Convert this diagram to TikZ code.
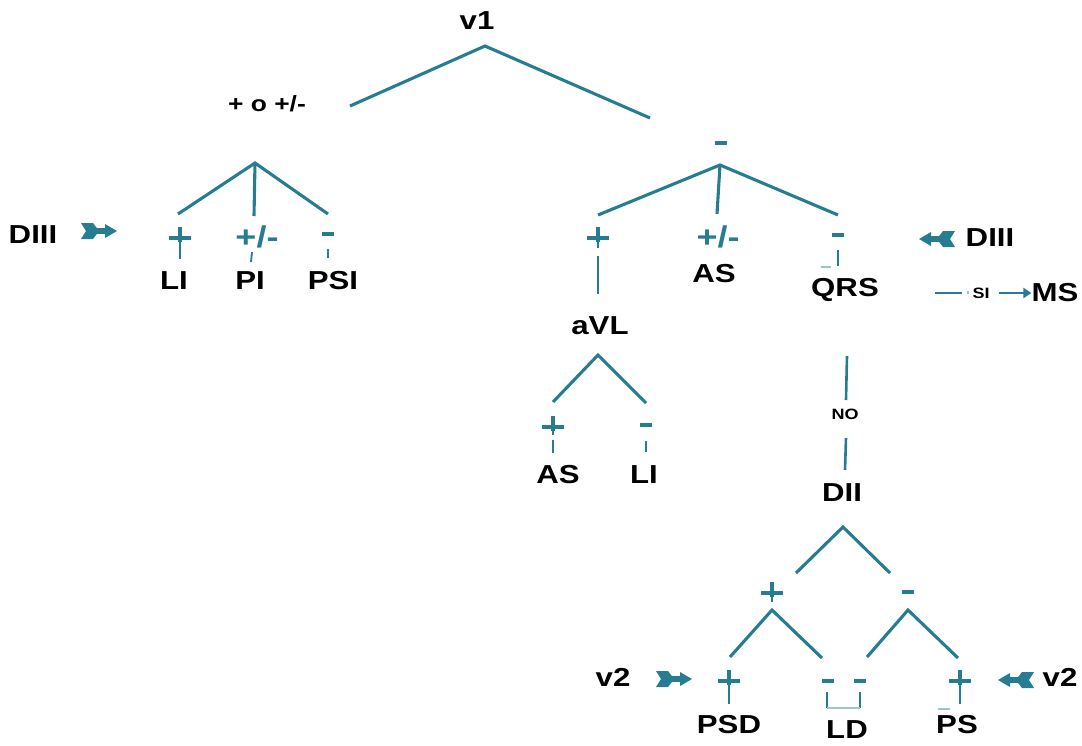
\documentclass[tikz,border=0pt]{standalone}
\usepackage{fontspec}
\usetikzlibrary{arrows.meta}
\setmainfont{Liberation Sans}
\newfontfamily\widesans[FakeStretch=1.2]{Liberation Sans}
\definecolor{treeteal}{RGB}{38,125,145}
\tikzset{
  branch/.style={draw=treeteal,line width=3.1pt},
  stemline/.style={draw=treeteal,line width=2.6pt},
  plusbar/.style={draw=treeteal,line width=3.6pt},
  tickline/.style={draw=treeteal,line width=1.8pt},
  faintline/.style={draw=treeteal!45,line width=1.3pt},
  minussign/.style={draw=treeteal,line width=4.4pt},
  lbl/.style={font=\widesans\bfseries\fontsize{26}{30}\selectfont,inner sep=0pt},
  smalllbl/.style={font=\widesans\bfseries\fontsize{15}{18}\selectfont,inner sep=0pt},
  signlbl/.style={text=treeteal,font=\widesans\bfseries\fontsize{30}{34}\selectfont,inner sep=0pt},
  pics/plusstem/.style={code={
    \draw[plusbar] (-11,0) -- (11,0);
    \draw[plusbar] (0,-11) -- (0,4);
    \draw[stemline] (0,3) -- (0,#1);
  }},
  pics/fletcharrow/.style={code={
    \fill[treeteal] (0,-8) -- (12,-8) -- (16,-2.8) -- (24,-2.8) -- (24,-7)
      -- (36,0) -- (24,7) -- (24,2.8) -- (16,2.8) -- (12,8) -- (0,8)
      -- (5,0) -- cycle;
  }}
}
\begin{document}
\begin{tikzpicture}[x=1pt,y=-1pt]
\useasboundingbox (0,0) rectangle (1082,745);

% ---------- root ----------
\node[lbl] (v1) at (477,21) {v1};
\coordinate (rootapex) at (485,46);
\coordinate (rootleft) at (350,106);
\coordinate (rootright) at (650,118);
\draw[branch] (rootleft) -- (rootapex) -- (rootright);
\node[font=\widesans\bfseries\fontsize{22}{26}\selectfont,inner sep=0pt] (posneg) at (267,104) {+ o +/-};

% ---------- left subtree ----------
\coordinate (lapex) at (255,163);
\coordinate (lend1) at (178,214);
\coordinate (lend2) at (254,216);
\coordinate (lend3) at (328,214);
\draw[branch] (lend1) -- (lapex) -- (lend3);
\draw[branch] (lapex) -- (lend2);
\pic at (180,238) {plusstem=21};
\node[signlbl] (lpm) at (257,237) {+/-};
\coordinate (lpmt1) at (252,252);
\coordinate (lpmt2) at (251,262);
\draw[tickline] (lpmt1) -- (lpmt2);
\coordinate (lmin1) at (322,234);
\coordinate (lmin2) at (334,234);
\draw[minussign] (lmin1) -- (lmin2);
\coordinate (lmt1) at (328,249);
\coordinate (lmt2) at (328,258);
\draw[tickline] (lmt1) -- (lmt2);
\node[lbl] (li1) at (174,281) {LI};
\node[lbl] (pi1) at (250,281) {PI};
\node[lbl] (psi1) at (333,281) {PSI};
\node[lbl] (d3left) at (33,235) {DIII};
\pic at (81,231) {fletcharrow};

% ---------- right subtree ----------
\coordinate (rmin1) at (715,143);
\coordinate (rmin2) at (727,143);
\draw[minussign] (rmin1) -- (rmin2);
\coordinate (rapex) at (720,165);
\coordinate (rend1) at (598,215);
\coordinate (rend2) at (717,214);
\coordinate (rend3) at (838,215);
\draw[branch] (rend1) -- (rapex) -- (rend3);
\draw[branch] (rapex) -- (rend2);
\pic at (598,238) {plusstem=10};
\node[signlbl] (rpm) at (718,237) {+/-};
\coordinate (rmm1) at (832,235);
\coordinate (rmm2) at (844,235);
\draw[minussign] (rmm1) -- (rmm2);
\coordinate (rmt1) at (838,250);
\coordinate (rmt2) at (838,266);
\draw[tickline] (rmt1) -- (rmt2);
\coordinate (rmf1) at (821,267);
\coordinate (rmf2) at (831,267);
\draw[faintline] (rmf1) -- (rmf2);
\node[lbl] (as1) at (714,274) {AS};
\node[lbl] (qrs) at (845,290) {QRS};
\node[lbl] (d3right) at (990,238) {DIII};
\pic[xscale=-1] at (955,239) {fletcharrow};

% QRS -- SI --> MS
\node[smalllbl] (si) at (981,293) {SI};
\node[lbl] (ms) at (1055,293) {MS};
\coordinate (siline1) at (935,293);
\coordinate (siline2) at (962,293);
\draw[stemline,line width=2pt] (siline1) -- (siline2);
\coordinate (sitick) at (968,291);
\draw[faintline] (sitick) -- ++(0,3);
\draw[treeteal,line width=2.4pt,-{Triangle[length=8pt,width=10pt]}] (si.east) ++(9,0) -- (ms.west);

% aVL branch
\node[lbl] (avl) at (600,326) {aVL};
\coordinate (avlstem1) at (598,256);
\coordinate (avlstem2) at (598,294);
\draw[stemline] (avlstem1) -- (avlstem2);
\coordinate (aapex) at (598,355);
\coordinate (aend1) at (553,402);
\coordinate (aend2) at (646,403);
\draw[branch] (aend1) -- (aapex) -- (aend2);
\pic at (553,427) {plusstem=8};
\coordinate (ast1) at (553,440);
\coordinate (ast2) at (553,453);
\draw[tickline] (ast1) -- (ast2);
\coordinate (amin1) at (640,425);
\coordinate (amin2) at (652,425);
\draw[minussign] (amin1) -- (amin2);
\coordinate (amt1) at (646,441);
\coordinate (amt2) at (646,452);
\draw[tickline] (amt1) -- (amt2);
\node[lbl] (as2) at (558,475) {AS};
\node[lbl] (li2) at (644,475) {LI};

% QRS -- NO -- DII
\node[smalllbl] (no) at (845,414) {NO};
\node[lbl] (d2) at (842,493) {DII};
\coordinate (noa1) at (847,356);
\coordinate (noa2) at (846,400);
\coordinate (nob1) at (846,438);
\coordinate (nob2) at (845,470);
\draw[stemline] (noa1) -- (noa2);
\draw[stemline] (nob1) -- (nob2);

% DII subtree
\coordinate (dapex) at (843,527);
\coordinate (dend1) at (796,573);
\coordinate (dend2) at (890,573);
\draw[branch] (dend1) -- (dapex) -- (dend2);
\pic at (772,593) {plusstem=9};
\coordinate (dmin1) at (902,592);
\coordinate (dmin2) at (914,592);
\draw[minussign] (dmin1) -- (dmin2);

\coordinate (papex) at (772,610);
\coordinate (pend1) at (730,657);
\coordinate (pend2) at (822,658);
\draw[branch] (pend1) -- (papex) -- (pend2);
\coordinate (mapex) at (908,610);
\coordinate (mend1) at (867,657);
\coordinate (mend2) at (958,658);
\draw[branch] (mend1) -- (mapex) -- (mend2);

\pic at (729,681) {plusstem=23};
\pic at (960,681) {plusstem=23};
\coordinate (psf1) at (938,709);
\coordinate (psf2) at (950,709);
\draw[faintline] (psf1) -- (psf2);

% LD bracket
\coordinate (ldm1a) at (822,681);
\coordinate (ldm1b) at (834,681);
\coordinate (ldm2a) at (854,681);
\coordinate (ldm2b) at (866,681);
\draw[minussign] (ldm1a) -- (ldm1b);
\draw[minussign] (ldm2a) -- (ldm2b);
\coordinate (ldt1a) at (827,692);
\coordinate (ldt1b) at (827,708);
\coordinate (ldt2a) at (860,692);
\coordinate (ldt2b) at (860,708);
\draw[tickline] (ldt1a) -- (ldt1b);
\draw[tickline] (ldt2a) -- (ldt2b);
\draw[faintline] (ldt1b) -- (ldt2b);

\node[lbl] (v2left) at (613,677) {v2};
\pic at (656,679) {fletcharrow};
\pic[xscale=-1] at (1034,680) {fletcharrow};
\node[lbl] (v2right) at (1060,677) {v2};

\node[lbl] (psd) at (729,725) {PSD};
\node[lbl] (ld) at (847,730) {LD};
\node[lbl] (ps) at (957,725) {PS};
\end{tikzpicture}
\end{document}
